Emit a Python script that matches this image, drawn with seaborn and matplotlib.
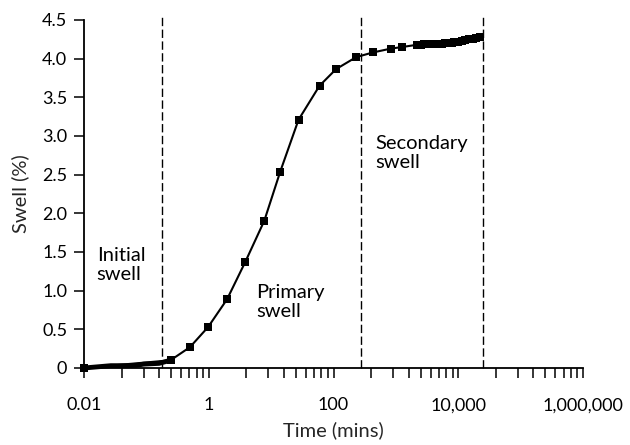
import matplotlib
matplotlib.use("Agg")
import matplotlib.pyplot as plt
import seaborn as sns
import numpy as np
import pandas as pd
from matplotlib.ticker import FixedLocator, NullFormatter

# ---- data ----
time_mins = [0.01, 0.244, 0.50, 0.977, 1.97, 3.87, 7.78, 14.0, 27.5, 59.7, 110, 231,
             427, 829, 1242,
             2200, 2500, 2800, 3100, 3500, 3900, 4400, 4900, 5500, 6200, 7000, 7800,
             8700, 10000, 11500, 13000, 15000, 17000, 19500, 22000]
swell_pct = [0.0, 0.10, 0.27, 0.53, 0.89, 1.375, 1.905, 2.54, 3.21, 3.65, 3.865, 4.02,
             4.08, 4.13, 4.15,
             4.18, 4.18, 4.185, 4.19, 4.19, 4.19, 4.19, 4.195, 4.195, 4.20, 4.20, 4.20,
             4.21, 4.22, 4.23, 4.24, 4.25, 4.26, 4.27, 4.28]

early_time = [0.01, 0.027, 0.035, 0.05, 0.07, 0.09, 0.12, 0.16, 0.244]
early_swell = [0.0, 0.03, 0.03, 0.03, 0.035, 0.05, 0.055, 0.06, 0.10]

boundaries = [0.18, 277, 25000]

major_ticks = [0.01, 1, 100, 10000, 1000000]
major_labels = ["0.01", "1", "100", "10,000", "1,000,000"]
y_ticks = [0, 0.5, 1.0, 1.5, 2.0, 2.5, 3.0, 3.5, 4.0, 4.5]
y_labels = ["0", "0.5", "1.0", "1.5", "2.0", "2.5", "3.0", "3.5", "4.0", "4.5"]

region_labels = ["Initial\nswell", "Primary\nswell", "Secondary\nswell"]
region_x = [0.016, 5.8, 470]
region_y = [1.56, 1.09, 3.01]

# ---- style ----
sns.set_style("ticks")
plt.rcParams["font.family"] = ["Lato", "DejaVu Sans"]

fig = plt.figure(figsize=(6.3, 4.45), dpi=100)
ax = fig.add_axes([84 / 630, 1 - 368 / 445, (583 - 84) / 630, (368 - 20) / 445])

df = pd.DataFrame({"time": time_mins, "swell": swell_pct})
edf = pd.DataFrame({"time": early_time, "swell": early_swell})

sns.lineplot(data=edf, x="time", y="swell", ax=ax, color="black", linewidth=3.5,
             estimator=None, sort=False)
sns.lineplot(data=df, x="time", y="swell", ax=ax, color="black", linewidth=1.5,
             marker="s", markersize=5.5, markeredgewidth=0, estimator=None, sort=False)
for ln in ax.lines:
    ln.set_clip_on(False)

for b in boundaries:
    ax.plot([b, b], [0, 4.56], color="black", linewidth=1.0,
            linestyle=(0, (6, 2.5)), clip_on=False)

for lbl, x, y in zip(region_labels, region_x, region_y):
    ax.text(x, y, lbl, ha="left", va="top", fontsize=14.5, color="black",
            linespacing=1.15)

ax.set_xscale("log")
ax.set_xlim(0.01, 1000000)
ax.set_ylim(0, 4.5)

ax.xaxis.set_major_locator(FixedLocator(major_ticks))
ax.set_xticklabels(major_labels)
minor = [m * k ** 2 for m in major_ticks[:-1] for k in range(2, 10)]
ax.xaxis.set_minor_locator(FixedLocator(minor))
ax.xaxis.set_minor_formatter(NullFormatter())
ax.set_yticks(y_ticks)
ax.set_yticklabels(y_labels)

ax.tick_params(axis="both", which="both", direction="out", length=7, width=1.1,
               colors="black", labelsize=13)
ax.tick_params(axis="x", which="major", pad=14)
ax.tick_params(axis="y", which="major", pad=5)

for s in ["top", "right"]:
    ax.spines[s].set_visible(False)
for s in ["left", "bottom"]:
    ax.spines[s].set_linewidth(1.3)
    ax.spines[s].set_color("black")

ax.set_xlabel("Time (mins)", fontsize=14.5, labelpad=6)
ax.set_ylabel("Swell (%)", fontsize=14.5, labelpad=9)

fig.savefig("out.png", dpi=100)
